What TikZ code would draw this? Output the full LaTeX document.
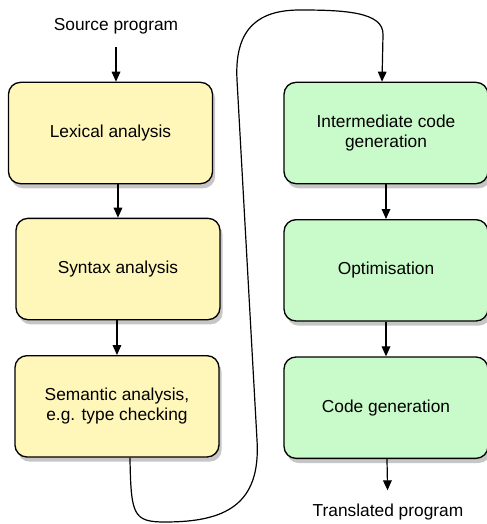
\documentclass[tikz,border=0pt]{standalone}
\usepackage{fontspec}
\setmainfont{Liberation Sans}
\usepackage{tikz}
\usetikzlibrary{positioning}
\usetikzlibrary{shadows}
\usetikzlibrary{arrows.meta}
\definecolor{frontyellow}{RGB}{255,246,186}
\definecolor{backgreen}{RGB}{201,251,202}

\begin{document}
\begin{tikzpicture}[
            x = 0.75pt, y = -0.75pt, % pixel units, y pointing down
            > = {Triangle[length=7.5pt,width=6.5pt]}, % arrow head style
            flow/.style = {->, line width=0.9pt}, % connector style
            label/.style = {inner sep=1pt, font=\fontsize{13}{15}\selectfont}
        ]

        \tikzstyle{phase}=[
            draw = black,
            line width = 1pt,
            rounded corners = 9pt,
            minimum width = 153pt,
            minimum height = 76pt,
            inner sep = 0pt,
            align = center,
            font = \fontsize{13}{15}\selectfont,
            drop shadow = {shadow xshift=2pt, shadow yshift=-3.5pt, opacity=0.45}
        ]

        \useasboundingbox (0,0) rectangle (486,524);

	% front end
        \node[label] (src) at (116,26) {Source program};
        \node[phase, fill=frontyellow] (lex) at (110.5,133) {Lexical analysis};
        \node[phase, fill=frontyellow] (syn) [below=25pt of lex, xshift=5.6pt] {Syntax analysis};
        \node[phase, fill=frontyellow] (sem) [below=26pt of syn, xshift=-0.75pt] {Semantic analysis,\\e.g. type checking};

        \draw[flow, shorten <=9pt] (src) -- (src |- lex.north);
        \draw[flow] (lex.south -| syn.north) -- (syn.north);
        \draw[flow] (syn.south -| sem.north) -- (sem.north);

         % back end
        \node[phase, fill=backgreen] (inter) at (386,133) {Intermediate code\\generation};
        \node[phase, fill=backgreen] (opt) [below=26pt of inter] {Optimisation};
        \node[phase, fill=backgreen] (gen) [below=26pt of opt] {Code generation};
        \node[label] (out) at (388,512) {Translated program};

        \draw[flow] (inter) -- (opt);
        \draw[flow] (opt) -- (gen);
        \draw[flow, shorten >=9pt] (gen) -- (out);

          % hand over between the two columns
        \draw[flow] ([xshift=9.75pt]sem.south)
            .. controls (131,515) and (133,522) .. (165,522)
            .. controls (225,522) and (261,505) .. (257,440)
            -- (237,80)
            .. controls (234,25) and (262,10) .. (300,10)
            .. controls (345,10) and (384,12) .. (383,35)
            -- ([xshift=-3pt]inter.north);

\end{tikzpicture}
\end{document}
